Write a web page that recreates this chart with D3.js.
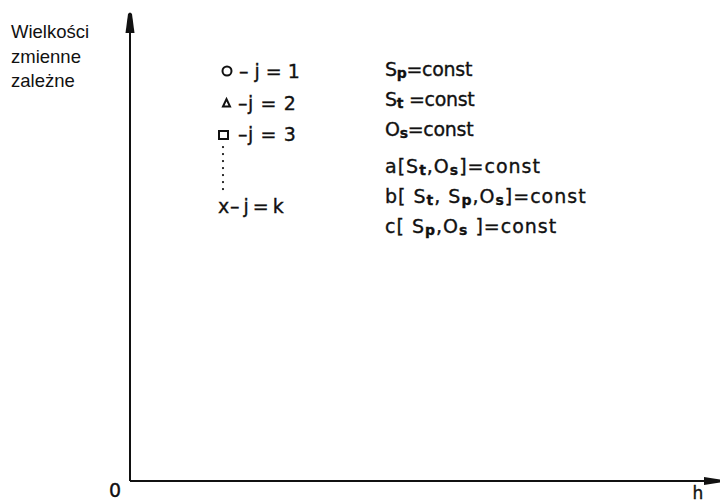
<!DOCTYPE html>
<html>
<head>
<meta charset="utf-8">
<script src="https://cdn.jsdelivr.net/npm/d3@7"></script>
<style>
  body { margin: 0; background: #fff; }
  svg { display: block; }
  text { font-family: "Liberation Sans", Arial, sans-serif; fill: #111; }
  text.tech { font-family: "DejaVu Sans", "Liberation Sans", sans-serif; stroke: #111; stroke-width: 0.35px; }
</style>
</head>
<body>
<svg id="chart" width="722" height="503"></svg>
<script>
/**
 * Data: axis labels, marker legend, constant conditions.
 */
const yLabelLines = ['Wielkości', 'zmienne', 'zależne'],
    xLabel = 'h',
    originLabel = '0';

const markerTypes = ['circle', 'triangle', 'square', 'cross'],
    markerLabels = ['– j = 1', '–j = 2', '–j = 3', '– j = k'];

// each condition is a list of [text, isSubscript]
const conditions = [
    [['S', 0], ['p', 1], ['=const', 0]],
    [['S', 0], ['t', 1], [' =const', 0]],
    [['O', 0], ['s', 1], ['=const', 0]],
    [['a[S', 0], ['t', 1], [',O', 0], ['s', 1], [']=const', 0]],
    [['b[ S', 0], ['t', 1], [', S', 0], ['p', 1], [',O', 0], ['s', 1], [']=const', 0]],
    [['c[ S', 0], ['p', 1], [',O', 0], ['s', 1], [' ]=const', 0]]
];

/**
 * Layout.
 */
const svg = d3.select('#chart');
const origin = { x: 130, y: 481 };

const xScale = d3.scaleLinear().domain([0, 1]).range([origin.x, 721]),
    yScale = d3.scaleLinear().domain([0, 1]).range([origin.y, 12]);

// Axes
const axes = svg.append('g').attr('class', 'axes')
    .attr('stroke', '#111').attr('fill', 'none');

axes.append('line')
    .attr('x1', xScale(0)).attr('y1', yScale(0))
    .attr('x2', xScale(0)).attr('y2', yScale(1) + 16)
    .attr('stroke-width', 2);
axes.append('line')
    .attr('x1', xScale(0)).attr('y1', yScale(0))
    .attr('x2', xScale(1) - 14).attr('y2', yScale(0))
    .attr('stroke-width', 2);

// Arrow heads
const yTip = yScale(1), xTip = xScale(1);
axes.append('path')
    .attr('d', `M${xScale(0) - 4.5},${yTip + 21} L${xScale(0) - 2},${yTip + 2} Q${xScale(0)},${yTip - 1} ${xScale(0) + 2},${yTip + 2} L${xScale(0) + 4.5},${yTip + 21} Z`)
    .attr('fill', '#111').attr('stroke', 'none');
axes.append('path')
    .attr('d', `M${xTip - 17},${yScale(0) - 4} L${xTip - 1},${yScale(0) - 1.5} L${xTip - 1},${yScale(0) + 1.5} L${xTip - 17},${yScale(0) + 4} Z`)
    .attr('fill', '#111').attr('stroke', 'none');

// Axis labels
svg.append('text')
    .attr('x', 11).attr('y', 38)
    .style('font-size', '18.5px')
    .selectAll('tspan').data(yLabelLines).join('tspan')
    .attr('x', 11).attr('dy', (d, i) => i ? 24.5 : 0)
    .text(d => d);

svg.append('text')
    .attr('class', 'tech')
    .attr('x', 115).attr('y', 497)
    .attr('text-anchor', 'middle')
    .style('font-size', '19px')
    .text(originLabel);

svg.append('text')
    .attr('class', 'tech')
    .attr('x', 698).attr('y', 499)
    .attr('text-anchor', 'middle')
    .style('font-size', '17px')
    .text(xLabel);

/**
 * Marker legend.
 */
const legendY = d3.scalePoint().domain(d3.range(3)).range([71, 134]);
const markerX = 223;

const legend = svg.append('g').attr('class', 'legend');
markerTypes.forEach((type, i) => {
    const y = i < 3 ? legendY(i) : 206;
    const g = legend.append('g').attr('transform', `translate(${markerX},${y})`);
    if (type === 'circle') {
        g.append('circle').attr('cx', 4).attr('r', 4.5)
            .attr('fill', 'none').attr('stroke', '#111').attr('stroke-width', 2);
    } else if (type === 'triangle') {
        g.append('path').attr('d', 'M0,4 L3.5,-3.5 L7,4 Z')
            .attr('fill', 'none').attr('stroke', '#111').attr('stroke-width', 2);
    } else if (type === 'square') {
        g.append('rect').attr('x', -4).attr('y', -3).attr('width', 9).attr('height', 8)
            .attr('fill', 'none').attr('stroke', '#111').attr('stroke-width', 2);
    } else {
        g.append('text').attr('class', 'tech').attr('x', -5).attr('y', 7)
            .style('font-size', '19px').text('x');
    }
    g.append('text')
        .attr('class', 'tech')
        .attr('x', type === 'cross' ? 7 : (type === 'circle' ? 16 : 15))
        .attr('y', 7)
        .style('font-size', '19px')
        .style('letter-spacing', type === 'cross' ? '-1px' : (type === 'circle' ? '0px' : '0.6px'))
        .attr('xml:space', 'preserve')
        .text(markerLabels[i]);
});

// dotted continuation between j=3 and j=k
legend.append('line')
    .attr('x1', markerX).attr('x2', markerX)
    .attr('y1', 147).attr('y2', 195)
    .attr('stroke', '#111').attr('stroke-width', 2.2)
    .attr('stroke-linecap', 'round')
    .attr('stroke-dasharray', '0.1 6.9');

/**
 * Constant conditions.
 */
const condY = [76, 106, 136, 173, 203, 233];
const cond = svg.append('g').attr('class', 'conditions');
conditions.forEach((parts, i) => {
    const t = cond.append('text')
        .attr('class', 'tech')
        .attr('x', 385).attr('y', condY[i])
        .attr('xml:space', 'preserve')
        .style('letter-spacing', i < 3 ? '-0.3px' : '1px')
        .style('font-size', '19px');
    t.selectAll('tspan').data(parts).join('tspan')
        .style('font-size', d => d[1] ? '14px' : '19px')
        .style('font-weight', d => d[1] ? 'bold' : 'normal')
        .attr('dy', (d, j) => {
            const prevSub = j > 0 && parts[j - 1][1];
            return (d[1] ? 2 : 0) - (prevSub ? 2 : 0);
        })
        .text(d => d[0]);
});
</script>
</body>
</html>
